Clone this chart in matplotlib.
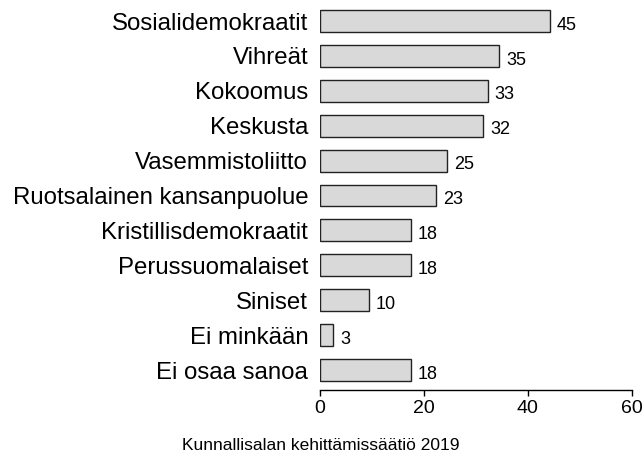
import matplotlib
matplotlib.use('Agg')
import matplotlib.pyplot as plt
import numpy as np

plt.rcParams['font.family'] = ['Liberation Sans', 'DejaVu Sans']

parties = ['Sosialidemokraatit', 'Vihreät', 'Kokoomus', 'Keskusta', 'Vasemmistoliitto',
           'Ruotsalainen kansanpuolue', 'Kristillisdemokraatit', 'Perussuomalaiset',
           'Siniset', 'Ei minkään', 'Ei osaa sanoa']
values = [44.3, 34.5, 32.3, 31.4, 24.4, 22.3, 17.5, 17.5, 9.4, 2.5, 17.5]
labels = ['45', '35', '33', '32', '25', '23', '18', '18', '10', '3', '18']
caption = 'Kunnallisalan kehittämissäätiö 2019'

W, H = 643, 459
fig = plt.figure(figsize=(W / 100, H / 100), dpi=100)
ax = fig.add_axes([320 / W, (H - 390) / H, 311.7 / W, 390 / H])

ypos = np.arange(len(parties))[::-1]
ax.barh(ypos, values, height=0.63, color='#d9d9d9', edgecolor='#222222', linewidth=1.0)

for y, v, lab in zip(ypos, values, labels):
    ax.annotate(lab, (v, y), xytext=(5, -3), textcoords='offset points',
                ha='left', va='center', fontsize=13)

ax.set_xlim(0, 60)
ax.set_ylim(-0.573, 10.602)
ax.set_xticks([0, 20, 40, 60])
ax.set_yticks(ypos)
ax.set_yticklabels(parties, fontsize=17.25)
ax.tick_params(axis='y', length=0, pad=8.5)
ax.tick_params(axis='x', length=4.5, width=1, labelsize=14, pad=3)
for s in ['top', 'right', 'left']:
    ax.spines[s].set_visible(False)
ax.spines['bottom'].set_linewidth(1)

fig.text(321 / W, 1 - 445 / H, caption, ha='center', va='center', fontsize=12.5)

fig.savefig('out.png', dpi=100)
